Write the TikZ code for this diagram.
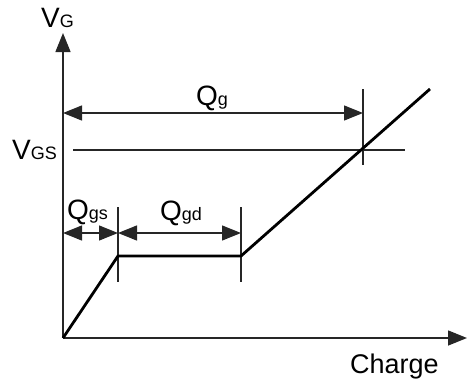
\documentclass[tikz,border=0pt]{standalone}
\usepackage{fontspec}
\setmainfont{Liberation Sans}
\usetikzlibrary{arrows.meta}
\newcommand{\bigtxt}{\fontsize{28}{28}\selectfont}
\newcommand{\subtxt}{\fontsize{18}{18}\selectfont}
\begin{document}
\begin{tikzpicture}[x=1pt,y=-1pt,
  tip/.tip={Triangle[length=19pt,width=15pt]},
  axis/.style={line width=1.5pt, draw=black!85, -tip},
  dim/.style={line width=1.3pt, draw=black!85, tip-tip},
  thinline/.style={line width=1.3pt, draw=black!85},
  curve/.style={line width=2.8pt, line join=miter},
  lbl/.style={anchor=base west, inner sep=0pt}]
\useasboundingbox (0,0) rectangle (467,381);
% axes
\coordinate (O) at (63,338);
\coordinate (Ytop) at (63,33);
\coordinate (Xend) at (467,338);
\draw[axis] (O) -- (Ytop);
\draw[axis] (O) -- (Xend);
% key points
\coordinate (P1) at (118,256);
\coordinate (P2) at (241,256);
\coordinate (E) at (430,89);
% ticks
\coordinate (T1a) at (363,89);  \coordinate (T1b) at (363,165);
\coordinate (T2a) at (118,207); \coordinate (T2b) at (118,282);
\coordinate (T3a) at (241,207); \coordinate (T3b) at (241,282);
\draw[thinline] (T1a) -- (T1b);
\draw[thinline] (T2a) -- (T2b);
\draw[thinline] (T3a) -- (T3b);
% VGS line
\coordinate (Va) at (73,150); \coordinate (Vb) at (405,150);
\draw[thinline] (Va) -- (Vb);
% dimension arrows
\coordinate (QgL) at (63,113); \coordinate (QgR) at (363,113);
\coordinate (QsL) at (63,233); \coordinate (QsR) at (118,233);
\coordinate (QdR) at (241,233);
\draw[dim] (QgL) -- (QgR);
\draw[dim] (QsL) -- (QsR);
\draw[dim] (QsR) -- (QdR);
% curve
\draw[curve] (O) -- (P1) -- (P2) -- (E);
% labels
\node[lbl] (vg) at (41,27) {\bigtxt V\subtxt G};
\node[lbl] (vgs) at (12,159) {\bigtxt V\subtxt GS};
\node[lbl] (qgs) at (67,219) {\bigtxt Q\subtxt gs};
\node[lbl] (qgd) at (160,220) {\bigtxt Q\subtxt gd};
\node[lbl] (qg) at (196,105) {\bigtxt Q\subtxt g};
\node[lbl] (ch) at (350,373) {\fontsize{27}{27}\selectfont Charge};
\end{tikzpicture}
\end{document}
